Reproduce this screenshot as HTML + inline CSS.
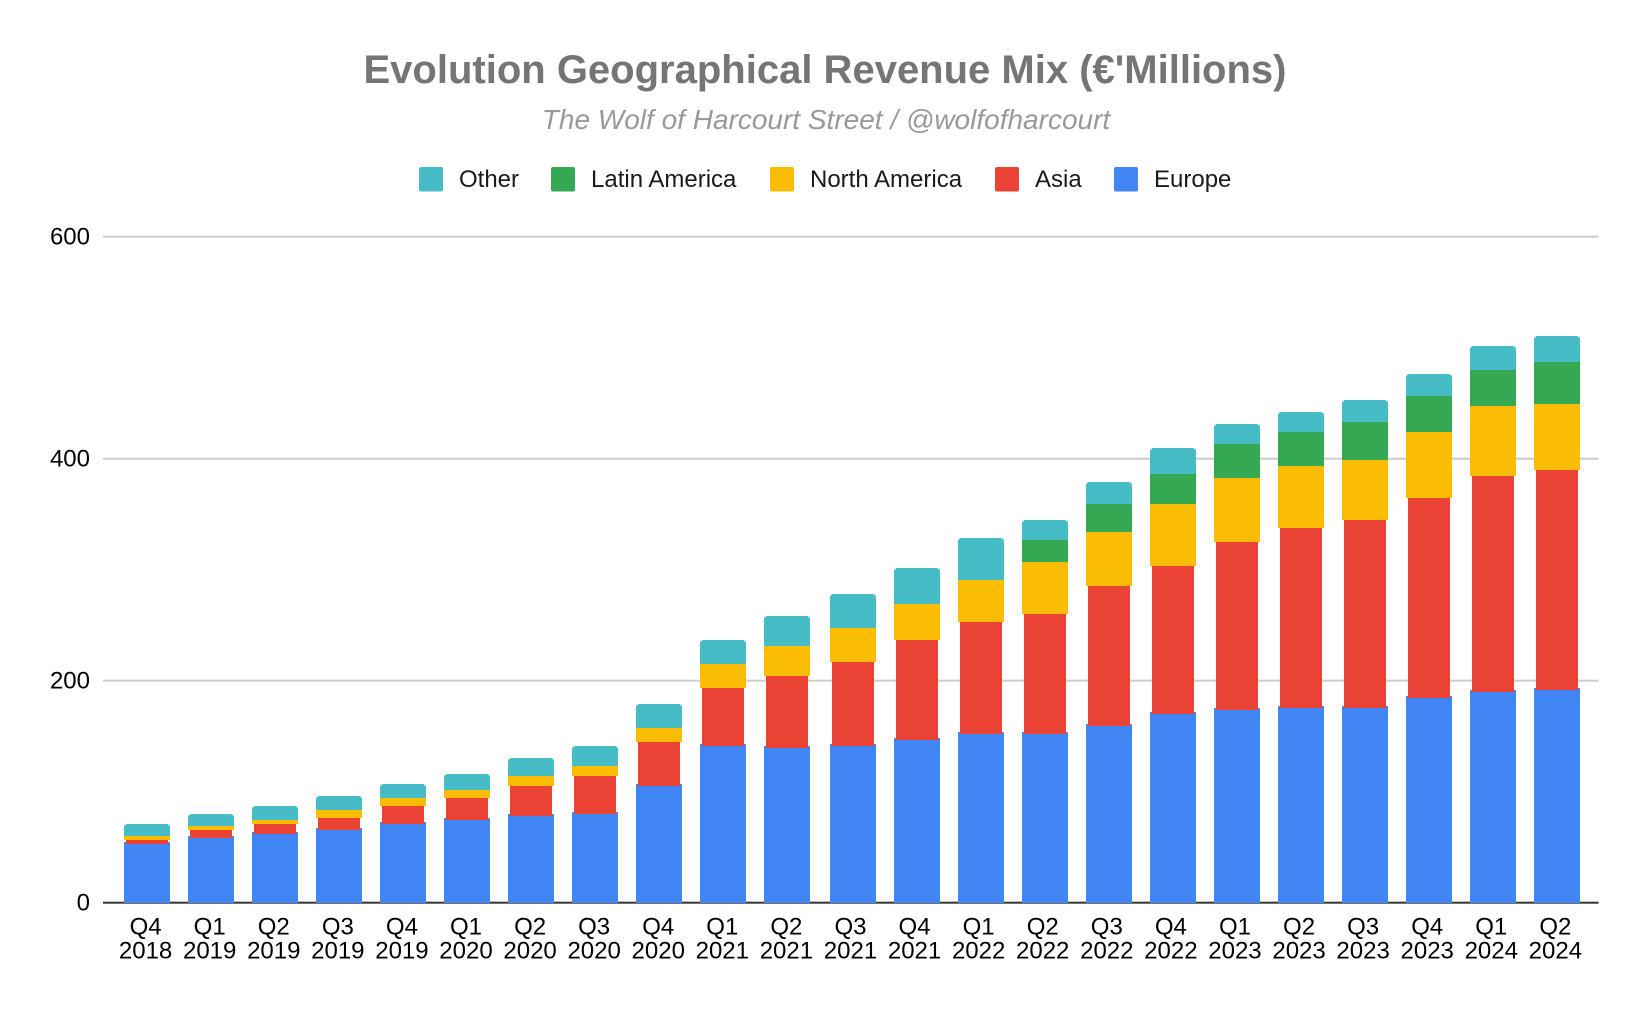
<!DOCTYPE html>
<html lang="en">
<head>
<meta charset="utf-8">
<title>Evolution Geographical Revenue Mix</title>
<style>
html,body{margin:0;padding:0;background:#fff;}
svg{display:block;font-family:"Liberation Sans",Arial,sans-serif;}
</style>
</head>
<body>
<svg id="chart" xmlns="http://www.w3.org/2000/svg" width="1650" height="1014" viewBox="0 0 1650 1014">
  <rect x="0" y="0" width="1650" height="1014" fill="#ffffff"/>
  <text x="825" y="83" text-anchor="middle" font-size="40" font-weight="700" fill="#757575">Evolution Geographical Revenue Mix (€'Millions)</text>
  <text x="826" y="129" text-anchor="middle" font-size="28" font-style="italic" fill="#999999">The Wolf of Harcourt Street / @wolfofharcourt</text>
  <g font-size="24" fill="#1a1a1a">
    <g>
      <rect x="419" y="167" width="24" height="24.5" rx="2" fill="#46bdc6"/>
      <text x="459" y="187">Other</text>
    </g>
    <g>
      <rect x="551" y="167" width="24" height="24.5" rx="2" fill="#34a853"/>
      <text x="591" y="187">Latin America</text>
    </g>
    <g>
      <rect x="770" y="167" width="24" height="24.5" rx="2" fill="#fbbc04"/>
      <text x="810" y="187">North America</text>
    </g>
    <g>
      <rect x="995" y="167" width="24" height="24.5" rx="2" fill="#ea4335"/>
      <text x="1035" y="187">Asia</text>
    </g>
    <g>
      <rect x="1114" y="167" width="24" height="24.5" rx="2" fill="#4285f4"/>
      <text x="1154" y="187">Europe</text>
    </g>
  </g>
  <g id="grid"></g>
  <g id="ylabels"></g>
  <g id="bars"></g>
  <g id="xlabels"></g>
</svg>
<script>
const quarters = ["Q4","Q1","Q2","Q3","Q4","Q1","Q2","Q3","Q4","Q1","Q2","Q3","Q4","Q1","Q2","Q3","Q4","Q1","Q2","Q3","Q4","Q1","Q2"];
const years = ["2018","2019","2019","2019","2019","2020","2020","2020","2020","2021","2021","2021","2021","2022","2022","2022","2022","2023","2023","2023","2023","2024","2024"];
const yTicks = [0,200,400,600];
const europe = [54.7,60.1,63.7,67.3,72.7,76.3,79.9,81.7,106.9,143.0,141.2,143.0,148.4,153.8,153.8,161.0,171.8,175.4,177.2,177.2,186.2,191.6,193.4];
const asia = [1.8,5.4,7.2,9.0,14.4,18.0,25.2,32.4,37.8,50.5,63.1,73.9,88.3,99.1,106.3,124.3,131.5,149.5,160.4,167.6,178.4,192.8,196.4];
const northAmerica = [3.6,3.6,3.6,7.2,7.2,7.2,9.0,9.0,12.6,21.6,27.0,30.6,32.4,37.8,46.8,48.6,55.9,57.7,55.9,54.1,59.5,63.1,59.5];
const latinAmerica = [0,0,0,0,0,0,0,0,0,0,0,0,0,0,19.8,25.2,27.0,30.6,30.6,34.2,32.4,32.4,37.8];
const other = [10.8,10.8,12.6,12.6,12.6,14.4,16.2,18.0,21.6,21.6,27.0,30.6,32.4,37.8,18.0,19.8,23.4,18.0,18.0,19.8,19.8,21.6,23.4];

const NS = "http://www.w3.org/2000/svg";
const baseY = 902.7;
const pxPerUnit = 222 / 200;
const plotLeft = 103;
const plotRight = 1598.5;
const barW = 46;
const asiaW = 42;

function yScale(v) { return baseY - v * pxPerUnit; }
/* bar centres snap to a 64px pitch, with a 2px layout jump after the 11th bar */
function xCenter(i) { return 147 + 64 * i + (i >= 11 ? 2 : 0); }
function xLabel(i) { return 145.6 + 64.08 * i; }
function snap(y) { return Math.round(y); }

function make(tag, attrs) {
  const el = document.createElementNS(NS, tag);
  for (const k in attrs) el.setAttribute(k, attrs[k]);
  return el;
}

const gridG = document.getElementById("grid");
const yG = document.getElementById("ylabels");
yTicks.forEach(function (t) {
  const y = yScale(t);
  const line = make("rect", { x: plotLeft, y: y - 1, width: plotRight - plotLeft, height: 2, fill: t === 0 ? "#333333" : "#cccccc" });
  
  
  gridG.appendChild(line);
  const label = make("text", { x: 90, y: y + 8, "text-anchor": "end", "font-size": 24, fill: "#000000" });
  
  
  label.textContent = t;
  yG.appendChild(label);
});

const seriesList = [
  { key: "europe", values: europe, color: "#4285f4" },
  { key: "asia", values: asia, color: "#ea4335" },
  { key: "north-america", values: northAmerica, color: "#fbbc04" },
  { key: "latin-america", values: latinAmerica, color: "#34a853" },
  { key: "other", values: other, color: "#46bdc6" }
];

const barsG = document.getElementById("bars");
const xG = document.getElementById("xlabels");
quarters.forEach(function (q, i) {
  const cx = xCenter(i);
  let cum = 0;
  seriesList.forEach(function (s) {
    const v = s.values[i];
    if (v <= 0) return;
    const isFirst = s.key === "europe";
    const isAsia = s.key === "asia";
    const isTop = s.key === "other";
    const bottomPx = isFirst ? 903 : snap(yScale(cum)) + (isAsia ? 2 : 0);
    cum += v;
    const topPx = snap(yScale(cum));
    const w = isAsia ? asiaW : barW;
    const left = cx - w / 2;
    let mark;
    if (isTop) {
      const r = 4;
      const d = "M" + left + " " + bottomPx + "V" + (topPx + r) + "Q" + left + " " + topPx + " " + (left + r) + " " + topPx +
        "H" + (left + w - r) + "Q" + (left + w) + " " + topPx + " " + (left + w) + " " + (topPx + r) + "V" + bottomPx + "Z";
      mark = make("path", { d: d, fill: s.color });
    } else {
      mark = make("rect", { x: left, y: topPx, width: w, height: bottomPx - topPx, fill: s.color });
    }
    
    
    barsG.appendChild(mark);
  });
  const label = make("text", { "text-anchor": "middle", "font-size": 24, fill: "#000000" });
  
  
  const l1 = make("tspan", { x: xLabel(i), y: 934.5 });
  l1.textContent = q;
  const l2 = make("tspan", { x: xLabel(i), y: 958.5 });
  l2.textContent = years[i];
  label.appendChild(l1);
  label.appendChild(l2);
  xG.appendChild(label);
});
</script>
</body>
</html>
